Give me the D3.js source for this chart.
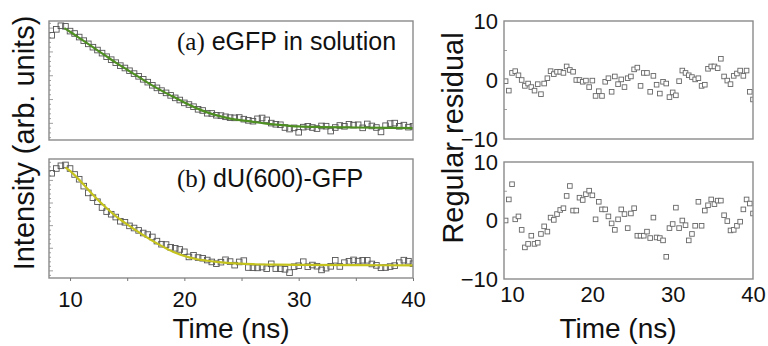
<html>
<head>
<meta charset="utf-8">
<script src="https://d3js.org/d3.v7.min.js"></script>
<style>
  body { margin: 0; background: #fff; }
  svg text { font-family: "Liberation Sans", Arial, sans-serif; fill: #111; }
</style>
</head>
<body>
<div id="chart"></div>
<script>

// time grid of the measured decays (ns)
var time = [8.4, 8.8, 9.2, 9.6, 10.0, 10.4, 10.8, 11.2, 11.6, 12.0,
            12.4, 12.8, 13.2, 13.6, 14.0, 14.4, 14.8, 15.2, 15.6, 16.0,
            16.4, 16.8, 17.2, 17.6, 18.0, 18.4, 18.8, 19.2, 19.6, 20.0,
            20.4, 20.8, 21.2, 21.6, 22.0, 22.4, 22.8, 23.2, 23.6, 24.0,
            24.4, 24.8, 25.2, 25.6, 26.0, 26.4, 26.8, 27.2, 27.6, 28.0,
            28.4, 28.8, 29.2, 29.6, 30.0, 30.4, 30.8, 31.2, 31.6, 32.0,
            32.4, 32.8, 33.2, 33.6, 34.0, 34.4, 34.8, 35.2, 35.6, 36.0,
            36.4, 36.8, 37.2, 37.6, 38.0, 38.4, 38.8, 39.2, 39.6, 40.0];

// (a) eGFP in solution, arb. units
var intensityA = [88, 93, 96, 95.5, 91.5, 89.5, 86.5, 83.5, 80.8, 78,
                  75.6, 73, 70, 67.5, 65, 62.5, 60.5, 58.2, 55.8, 53.5,
                  51, 48.6, 46, 43.8, 41.5, 39.6, 37.5, 35.4, 33.6, 31.2,
                  29.8, 28, 25.8, 24.8, 22.5, 22.3, 20.8, 20.5, 19.5, 18.8,
                  18.6, 18.9, 17.5, 16.5, 15.8, 17.8, 18.5, 16.9, 14.2, 13.2,
                  12.8, 10.5, 9.2, 10.2, 6.5, 10.8, 11.5, 10.5, 9.6, 11.8,
                  11.6, 7.5, 10.5, 12.2, 11.5, 13.2, 12.5, 12.8, 10.2, 13.5,
                  11.8, 10.5, 6.8, 12, 13.8, 14.2, 11.5, 12.5, 10.8, 11.5];

// (b) dU(600)-GFP
var intensityB = [88, 92, 94.3, 95, 92, 87, 83, 77.2, 71.5, 67.5,
                  64.1, 59.2, 55.8, 53.6, 51.2, 47.7, 46.8, 43.8, 42, 40,
                  37.8, 36.5, 34.5, 31, 28.4, 28.1, 25.8, 25, 24, 22,
                  17.7, 19.1, 17.2, 16.6, 15.1, 13.5, 12, 13.3, 15.3, 13.8,
                  10.8, 13.5, 14.6, 8.8, 8.6, 8.5, 9.2, 7.8, 11.9, 7.9,
                  7.8, 7.3, 4.5, 9.5, 10.3, 13.7, 9.5, 10.9, 9.9, 6.8,
                  8.3, 9.8, 14.9, 9.7, 12.9, 14, 15.2, 14.2, 14.9, 14.9,
                  11.8, 10.6, 8.6, 8.8, 9.6, 10.4, 12.9, 15, 14.1, 12];

// fitted curves
var fitTimeA = [9.5, 10, 11, 12, 13, 14, 15, 16, 17, 18, 19, 20, 21, 22, 23, 24, 25, 26, 27, 28, 29, 30, 32, 35, 40];
var fitA     = [94, 91, 84.5, 78, 71.5, 65, 59, 53, 47, 41.5, 36.5, 31.5, 27, 23.2, 20.3, 18, 16.5, 15.3, 14, 12.9, 12.1, 11.4, 10.9, 10.5, 10];
var fitTimeB = [9.6, 10, 11, 12, 13, 14, 15, 16, 17, 18, 19, 20, 21, 22, 23, 24, 25, 26, 28, 30, 35, 40];
var fitB     = [93, 90, 80.5, 70, 60.5, 52, 45, 38.5, 32.5, 27, 22, 18.5, 16, 14.5, 13.3, 12.5, 12, 11.6, 11.2, 11, 10.8, 10.6];

// regular residuals (from 9.2 ns on)
var residTime = time.filter(function(t) { return t >= 9.2; });
var residA = [-0.2, -1.8, 1.2, 1.5, 0.8, 0, -1, -0.6, -1.2, -1.8,
              -0.7, -2.4, -0.6, 0.3, 1.5, 1, 1.4, 1.4, 1.2, 2.3,
              1.7, 1.4, 0, 0, -0.3, -0.1, -1.2, -0.1, -2.7, -1.9,
              -2.7, -0.3, 0.3, -2, 0.6, -0.7, 0.1, -1.2, 0.3, 0.6,
              1.8, 2.1, -1, 1.2, 1.2, -2, 0.7, -0.8, -2.3, -0.3,
              -0.6, -2.9, -2.1, -2.6, -0.2, 1.6, 1.2, 0.8, 0.5, 0.1,
              0.3, -1, -0.8, 1.9, 2.3, 2.3, 2, 3.6, 0.6, -0.1,
              -0.7, 0.7, 1.1, 1.6, 0.7, 1.6, -2, -3.3];
var residB = [0, 3.6, 6.2, 0.2, 0.7, -1.6, -4.6, -4, -2.6, -4,
              -3.8, -2.3, -1, -1.9, 0.5, 0.1, 1.1, 1.8, 2.1, 4.2,
              5.9, 1.7, 1.7, 3.9, 3.5, 4.5, 5.1, 4.3, 0.2, 3.2,
              1.9, 1.9, 0.7, -0.5, -1.6, 0.2, 1.9, 1.1, -1.3, 1.2,
              2.1, -2.6, -2.6, -2.6, -1.9, -3, 0.5, -2.9, -3, -3.4,
              -6.2, -1.3, -0.6, 2.2, -1.3, 0, -0.8, -3.4, -2.3, -0.9,
              3.2, -0.9, 1.7, 2.6, 3.6, 2.8, 3.4, 3.4, 0.9, -0.1,
              -1.7, -1.6, -0.9, -0.2, 1.9, 3.6, 2.9, 1.2];

var timeTicks = [10, 15, 20, 25, 30, 35, 40];
var timeLabels = [10, 20, 30, 40];
var residTicks = [-10, 0, 10];
var residMinor = [-5, 5];
var intensityTicksA = d3.range(2, 100, 4);   // long tick every 20, starting at 14
var intensityTicksB = d3.range(2.2, 100, 3.8); // long tick every 19, starting at 6

var width = 768, height = 346;

var svg = d3.select("#chart").append("svg")
    .attr("width", width)
    .attr("height", height);

var xL = d3.scaleLinear().domain([8.16, 40]).range([49, 413]);
var xR = d3.scaleLinear().domain([9, 40]).range([504, 753]);
var yA = d3.scaleLinear().domain([0, 100]).range([140, 21]);
var yB = d3.scaleLinear().domain([0, 100]).range([278, 159]);
var yRA = d3.scaleLinear().domain([-10, 10]).range([139, 21]);
var yRB = d3.scaleLinear().domain([-10, 10]).range([279, 162]);

var frameColor = "#8a8a8a";

function frame(x, y, id) {
  var x0 = x.range()[0], x1 = x.range()[1];
  var y0 = y.range()[1], y1 = y.range()[0];
  svg.append("clipPath").attr("id", id)
    .append("rect").attr("x", x0).attr("y", y0).attr("width", x1 - x0).attr("height", y1 - y0);
  return { x0: x0, x1: x1, y0: y0, y1: y1 };
}

function border(b) {
  svg.append("rect")
    .attr("x", b.x0).attr("y", b.y0)
    .attr("width", b.x1 - b.x0).attr("height", b.y1 - b.y0)
    .attr("fill", "none")
    .attr("stroke", frameColor)
    .attr("stroke-width", 1.4);
}

// ---- left panels: intensity decays ----
function decayPanel(y, values, fitT, fitV, color, ticks, firstMajor, step, id) {
  var b = frame(xL, y, id);

  // small inward ticks on the left edge
  svg.append("g").selectAll("line")
    .data(ticks.filter(function(v) { return y(v) > b.y0 + 1 && y(v) < b.y1 - 1; }))
    .enter().append("line")
    .attr("x1", b.x0).attr("x2", function(v) {
      var k = Math.round((v - firstMajor) / step);
      return b.x0 + (k % 5 === 0 ? 4 : 2);
    })
    .attr("y1", function(v) { return y(v); })
    .attr("y2", function(v) { return y(v); })
    .attr("stroke", "#888").attr("stroke-width", 0.8);

  var g = svg.append("g").attr("clip-path", "url(#" + id + ")");
  g.selectAll("rect")
    .data(time.map(function(t, i) { return [t, values[i]]; }))
    .enter().append("rect")
    .attr("x", function(d) { return xL(d[0]) - 2.8; })
    .attr("y", function(d) { return y(d[1]) - 2.8; })
    .attr("width", 5.6).attr("height", 5.6)
    .attr("fill", "none")
    .attr("stroke", "#555")
    .attr("stroke-width", 0.9);

  var line = d3.line()
    .x(function(d) { return xL(d[0]); })
    .y(function(d) { return y(d[1]); })
    .curve(d3.curveMonotoneX);
  g.append("path")
    .datum(fitT.map(function(t, i) { return [t, fitV[i]]; }))
    .attr("d", line)
    .attr("fill", "none")
    .attr("stroke", color)
    .attr("stroke-width", 2.2);

  border(b);
  return b;
}

decayPanel(yA, intensityA, fitTimeA, fitA, "#4e8f22", intensityTicksA, 14, 4, "clipA");
decayPanel(yB, intensityB, fitTimeB, fitB, "#c4c21c", intensityTicksB, 6, 3.8, "clipB");

// bottom time axis of the left panels
var axL = svg.append("g")
  .attr("transform", "translate(0,278)")
  .call(d3.axisBottom(xL).tickValues(timeTicks).tickSize(3).tickPadding(10)
    .tickFormat(function(d) { return timeLabels.indexOf(d) >= 0 ? d : ""; }));
axL.select(".domain").remove();
axL.selectAll("line").attr("stroke", "#777");
axL.selectAll("text").style("font-size", "22px").style("font-family", "Liberation Sans, Arial, sans-serif").attr("fill", "#111");

// panel labels
var labA = svg.append("text").attr("x", 177).attr("y", 50).style("font-size", "25px");
labA.append("tspan").style("font-family", "Liberation Serif, Times New Roman, serif").text("(a)");
labA.append("tspan").text(" eGFP in solution");

var labB = svg.append("text").attr("x", 177).attr("y", 187).style("font-size", "25px");
labB.append("tspan").style("font-family", "Liberation Serif, Times New Roman, serif").text("(b)");
labB.append("tspan").text(" dU(600)-GFP");

// ---- right panels: residuals ----
function residPanel(y, values, id) {
  var b = frame(xR, y, id);

  svg.append("g").selectAll("line")
    .data(residMinor)
    .enter().append("line")
    .attr("x1", b.x0).attr("x2", b.x0 + 3)
    .attr("y1", function(v) { return y(v); })
    .attr("y2", function(v) { return y(v); })
    .attr("stroke", "#888").attr("stroke-width", 0.8);

  var g = svg.append("g").attr("clip-path", "url(#" + id + ")");
  g.selectAll("rect")
    .data(residTime.map(function(t, i) { return [t, values[i]]; }))
    .enter().append("rect")
    .attr("x", function(d) { return xR(d[0]) - 2.3; })
    .attr("y", function(d) { return y(d[1]) - 2.3; })
    .attr("width", 4.6).attr("height", 4.6)
    .attr("fill", "#fff")
    .attr("stroke", "#666")
    .attr("stroke-width", 0.9);

  border(b);

  var ay = svg.append("g")
    .attr("transform", "translate(" + b.x0 + ",0)")
    .call(d3.axisLeft(y).tickValues(residTicks).tickSize(0).tickPadding(6).tickFormat(d3.format("d")));
  ay.select(".domain").remove();
  ay.selectAll("text").style("font-size", "22px").style("font-family", "Liberation Sans, Arial, sans-serif").attr("fill", "#111");
}

residPanel(yRA, residA, "clipRA");
residPanel(yRB, residB, "clipRB");

var axR = svg.append("g")
  .attr("transform", "translate(0,279)")
  .call(d3.axisBottom(xR).tickValues(timeLabels).tickSize(0).tickPadding(7.5));
axR.select(".domain").remove();
axR.selectAll("text").style("font-size", "22px").style("font-family", "Liberation Sans, Arial, sans-serif").attr("fill", "#111");

// axis titles
svg.append("text")
  .attr("x", 231).attr("y", 338)
  .style("text-anchor", "middle").style("font-size", "28px")
  .text("Time (ns)");

svg.append("text")
  .attr("x", 618).attr("y", 338)
  .style("text-anchor", "middle").style("font-size", "28px")
  .text("Time (ns)");

svg.append("text")
  .attr("transform", "translate(34,143) rotate(-90)")
  .style("text-anchor", "middle").style("font-size", "29px")
  .text("Intensity (arb. units)");

svg.append("text")
  .attr("transform", "translate(463,138) rotate(-90)")
  .style("text-anchor", "middle").style("font-size", "29px")
  .text("Regular residual");

</script>
</body>
</html>
